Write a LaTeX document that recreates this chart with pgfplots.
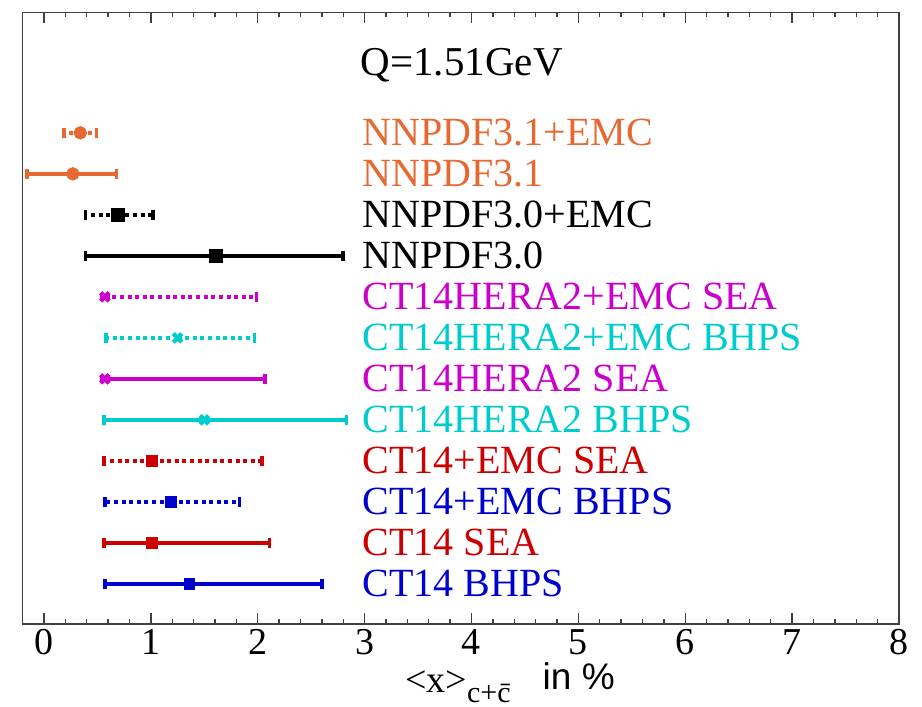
\documentclass[border=0pt]{standalone}
\usepackage{fontspec}
\setmainfont{Liberation Serif}
\newfontfamily\arialfont{Liberation Sans}
\usepackage{pgfplots}
\pgfplotsset{compat=1.18}

\definecolor{nnorange}{RGB}{230,105,50}
\definecolor{ctmag}{RGB}{204,0,204}
\definecolor{ctcyan}{RGB}{0,204,204}
\definecolor{ctred}{RGB}{204,0,0}
\definecolor{ctblue}{RGB}{0,0,204}

\newcommand\lab{\fontsize{20}{20}\selectfont}

\pgfplotsset{
  ebar/.style={line width=1.8pt, mark options={solid},
    error bars/x dir=both, error bars/x explicit,
    error bars/error bar style={line width=1.8pt},
    error bars/error mark options={solid, line width=1.8pt, mark size=2.6pt, rotate=90}},
  emc/.style={error bars/error bar style={line width=1.8pt, dash pattern=on 2pt off 1.8pt}},
}

\begin{document}
\begin{tikzpicture}
\begin{axis}[
  width=438.2pt, height=305.8pt, scale only axis,
  xmin=-0.2, xmax=8, ymin=0.024, ymax=14.94,
  xtick={0,...,8}, minor x tick num=4, ytick=\empty,
  tick align=inside, major tick length=5.5pt, minor tick length=2.5pt,
  axis line style={black!75, line width=0.7pt},
  tick style={black!75, line width=0.7pt},
  xticklabel style={font=\fontsize{19}{19}\selectfont, inner sep=1pt, yshift=-1.5pt},
  /pgf/number format/assume math mode=true,
  clip=false,
]
% one row per set: centre, +err, -err
\addplot[ebar, emc, color=nnorange, mark=*, mark size=2.4pt]
  coordinates {(0.34,12) += (0.15,0) -= (0.15,0)};
\addplot[ebar, color=nnorange, mark=*, mark size=2.4pt]
  coordinates {(0.27,11) += (0.41,0) -= (0.43,0)};
\addplot[ebar, emc, color=black, mark=square*, mark size=2.6pt]
  coordinates {(0.69,10) += (0.33,0) -= (0.30,0)};
\addplot[ebar, color=black, mark=square*, mark size=2.5pt]
  coordinates {(1.61,9) += (1.19,0) -= (1.22,0)};
\addplot[ebar, emc, color=ctmag, mark=x, mark size=3pt, mark options={line width=2.2pt}]
  coordinates {(0.57,8) += (1.42,0) -= (0.0,0)};
\addplot[ebar, emc, color=ctcyan, mark=x, mark size=3pt, mark options={line width=2.2pt}]
  coordinates {(1.25,7) += (0.72,0) -= (0.67,0)};
\addplot[ebar, color=ctmag, mark=x, mark size=3pt, mark options={line width=2.2pt}]
  coordinates {(0.57,6) += (1.50,0) -= (0.0,0)};
\addplot[ebar, color=ctcyan, mark=x, mark size=3pt, mark options={line width=2.2pt}]
  coordinates {(1.50,5) += (1.33,0) -= (0.94,0)};
\addplot[ebar, emc, color=ctred, mark=square*, mark size=2pt]
  coordinates {(1.01,4) += (1.03,0) -= (0.45,0)};
\addplot[ebar, emc, color=ctblue, mark=square*, mark size=2pt]
  coordinates {(1.19,3) += (0.64,0) -= (0.62,0)};
\addplot[ebar, color=ctred, mark=square*, mark size=2pt]
  coordinates {(1.01,2) += (1.10,0) -= (0.45,0)};
\addplot[ebar, color=ctblue, mark=square*, mark size=2pt]
  coordinates {(1.36,1) += (1.24,0) -= (0.79,0)};

\node[anchor=base west, inner sep=0, font=\fontsize{20.5}{20.5}\selectfont] at (axis cs:2.96,13.41) {Q=1.51GeV};
\node[anchor=west, inner sep=0, font=\lab, text=nnorange] at (axis cs:2.98,12) {NNPDF3.1+EMC};
\node[anchor=west, inner sep=0, font=\lab, text=nnorange] at (axis cs:2.98,11) {NNPDF3.1};
\node[anchor=west, inner sep=0, font=\lab, text=black] at (axis cs:2.98,10) {NNPDF3.0+EMC};
\node[anchor=west, inner sep=0, font=\lab, text=black] at (axis cs:2.98,9) {NNPDF3.0};
\node[anchor=west, inner sep=0, font=\lab, text=ctmag] at (axis cs:2.98,8) {CT14HERA2+EMC SEA};
\node[anchor=west, inner sep=0, font=\lab, text=ctcyan] at (axis cs:2.98,7) {CT14HERA2+EMC BHPS};
\node[anchor=west, inner sep=0, font=\lab, text=ctmag] at (axis cs:2.98,6) {CT14HERA2 SEA};
\node[anchor=west, inner sep=0, font=\lab, text=ctcyan] at (axis cs:2.98,5) {CT14HERA2 BHPS};
\node[anchor=west, inner sep=0, font=\lab, text=ctred] at (axis cs:2.98,4) {CT14+EMC SEA};
\node[anchor=west, inner sep=0, font=\lab, text=ctblue] at (axis cs:2.98,3) {CT14+EMC BHPS};
\node[anchor=west, inner sep=0, font=\lab, text=ctred] at (axis cs:2.98,2) {CT14 SEA};
\node[anchor=west, inner sep=0, font=\lab, text=ctblue] at (axis cs:2.98,1) {CT14 BHPS};

\node[anchor=base west, inner sep=0, yshift=-34.5pt] at (axis cs:3.377,0.024)
  {{\fontsize{19}{19}\selectfont <x>}\raisebox{-4.8pt}{\fontsize{15}{15}\selectfont c+\=c}\hspace{16pt}\raisebox{1.5pt}{\arialfont\fontsize{18.5}{18.5}\selectfont in \%}};
\end{axis}
\pgfresetboundingbox
\path ([shift={(-11.3pt,-41.5pt)}]current axis.south west) rectangle ([shift={(11.5pt,6.15pt)}]current axis.north east);
\end{tikzpicture}
\end{document}
